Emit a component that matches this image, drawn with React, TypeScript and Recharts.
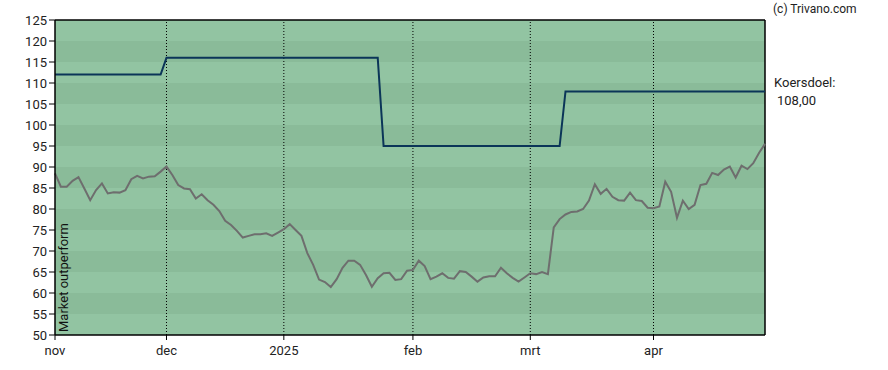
import React from 'react';
import { LineChart, Line, XAxis, YAxis, ReferenceArea, ReferenceLine } from 'recharts';

// x positions are sample indices (roughly one per trading day), nov .. end of apr
const monthTicks = [0, 19, 39, 61, 81, 102];
const monthLabels = ['nov', 'dec', '2025', 'feb', 'mrt', 'apr'];
const yTicks = [50, 55, 60, 65, 70, 75, 80, 85, 90, 95, 100, 105, 110, 115, 120, 125];

// relative price line (grey)
const priceValues = [
  88.5, 85.3, 85.3, 86.7, 87.6, 84.9, 82.1, 84.5, 86.1, 83.7,
  84.0, 83.9, 84.5, 87.1, 87.9, 87.3, 87.7, 87.8, 88.9, 90.1,
  88.1, 85.7, 84.9, 84.7, 82.5, 83.5, 82.1, 81.0, 79.5, 77.2,
  76.2, 74.8, 73.2, 73.6, 74.0, 74.0, 74.2, 73.6, 74.4, 75.2,
  76.4, 75.0, 73.6, 69.5, 66.7, 63.2, 62.6, 61.4, 63.3, 66.0,
  67.7, 67.7, 66.7, 64.3, 61.5, 63.5, 64.7, 64.8, 63.1, 63.3,
  65.3, 65.5, 67.7, 66.4, 63.3, 63.9, 64.7, 63.6, 63.4, 65.2,
  65.0, 63.9, 62.7, 63.7, 64.0, 64.0, 66.0, 64.7, 63.6, 62.7,
  63.7, 64.7, 64.5, 65.0, 64.5, 75.6, 77.6, 78.7, 79.3, 79.4,
  80.0, 82.0, 85.9, 83.6, 84.8, 82.9, 82.1, 82.0, 83.9, 82.1,
  81.9, 80.3, 80.2, 80.6, 86.5, 84.1, 77.9, 82.0, 80.0, 81.0,
  85.7, 86.0, 88.6, 88.1, 89.4, 90.1, 87.5, 90.3, 89.5, 90.9,
  93.4, 95.5,
];

// koersdoel (target price) corner points
const targetIdx = [0, 18, 19, 55, 56, 86, 87, 121];
const targetValues = [112, 112, 116, 116, 95, 95, 108, 108];

const bandStarts = [50, 55, 60, 65, 70, 75, 80, 85, 90, 95, 100, 105, 110, 115, 120];

const LIGHT = '#92c4a2';
const DARK = '#8abb99';
const FONT = 'Roboto, Arial, sans-serif';

const priceData = priceValues.map((v, i) => ({ i, v }));
const targetData = targetIdx.map((i, k) => ({ i, t: targetValues[k] }));

export default function App() {
  const tick = { fill: '#222', fontSize: 13, fontFamily: FONT };
  return (
    <div style={{ position: 'absolute', left: 0, top: 0, width: 888, height: 370, background: '#fff', fontFamily: FONT }}>
      <LineChart width={888} height={370} data={priceData} margin={{ top: 20, right: 123, left: 15, bottom: 15 }}>
        {bandStarts.map((b, k) => (
          <ReferenceArea
            key={b}
            y1={b}
            y2={b + 5}
            fill={k % 2 === 0 ? LIGHT : DARK}
            fillOpacity={1}
            stroke="none"
            ifOverflow="hidden"
          />
        ))}
        {monthTicks.slice(1).map(m => (
          <ReferenceLine key={m} x={m} stroke="#000" strokeDasharray="1 2" strokeWidth={1} />
        ))}
        <ReferenceLine y={125} stroke="#000" strokeWidth={1.5} />
        <ReferenceLine x={121} stroke="#000" strokeWidth={1.5} />
        <XAxis
          type="number"
          dataKey="i"
          domain={[0, 121]}
          ticks={monthTicks}
          interval={0}
          height={20}
          tickSize={5}
          tickMargin={6}
          tickFormatter={(v: number) => monthLabels[monthTicks.indexOf(v)] ?? ''}
          stroke="#000"
          axisLine={{ stroke: '#000', strokeWidth: 1.5 }}
          tick={tick}
        />
        <YAxis
          type="number"
          domain={[50, 125]}
          ticks={yTicks}
          interval={0}
          width={40}
          tickSize={6}
          tickMargin={2}
          stroke="#000"
          axisLine={{ stroke: '#000', strokeWidth: 1.5 }}
          tick={tick}
        />
        <Line
          type="linear"
          dataKey="v"
          stroke="#6e6e6e"
          strokeWidth={2}
          dot={false}
          isAnimationActive={false}
        />
        <Line
          type="linear"
          data={targetData}
          dataKey="t"
          stroke="#0b3558"
          strokeWidth={2}
          dot={false}
          isAnimationActive={false}
        />
      </LineChart>
      <svg width={888} height={370} style={{ position: 'absolute', left: 0, top: 0, pointerEvents: 'none' }}>
        <text x={68} y={332} transform="rotate(-90 68 332)" fontSize={13} fontFamily={FONT} fill="#111">
          Market outperform
        </text>
        <text x={773} y={13} fontSize={12} fontFamily={FONT} fill="#222">(c) Trivano.com</text>
        <text x={774} y={87} fontSize={13} fontFamily={FONT} fill="#222">Koersdoel:</text>
        <text x={777} y={105} fontSize={13} fontFamily={FONT} fill="#222">108,00</text>
      </svg>
    </div>
  );
}
